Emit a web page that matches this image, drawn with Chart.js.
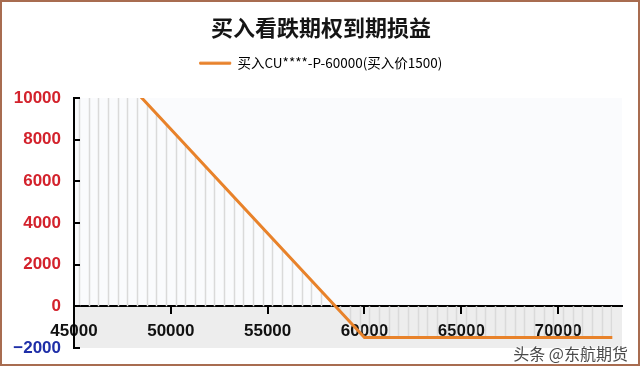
<html>
<head>
<script src="https://cdn.jsdelivr.net/npm/chart.js@4.4.0/dist/chart.umd.min.js"></script>
<style>
  body { margin: 0; background: #fff; }
  #wrap { position: relative; width: 640px; height: 369px; }
  #frame { position: absolute; left: 0; top: 0; width: 640px; height: 366px; box-sizing: border-box;
           border: 2px solid #a86c50; pointer-events: none; }
  #mark { position: absolute; right: 12px; top: 341px; font: 16px "Noto Sans CJK SC", sans-serif;
          color: #4a4a4a; text-shadow: 0 0 2px #fff, 0 0 2px #fff; }
</style>
</head>
<body>
<div id="wrap">
  <canvas id="myChart" width="640" height="369"></canvas>
  <div id="frame"></div>
  <div id="mark">头条 @东航期货</div>
</div>

<script>
// underlying price at expiry vs profit/loss
const prices = [45000, 60000, 72800];
const payoff = [13500, -1500, -1500];
const seriesName = '买入CU****-P-60000(买入价1500)';
const chartTitle = '买入看跌期权到期损益';
const yTicks = [-2000, 0, 2000, 4000, 6000, 8000, 10000];
const xTicks = [45000, 50000, 55000, 60000, 65000, 70000];

const orange = '#e8822a';

// vertical stripes every 500, offset by 250
function stripes(ctx) {
    const chart = ctx.chart;
    const x = chart.scales.x;
    if (!chart.chartArea || !x) return 'rgba(0,0,0,0)';
    const c = document.createElement('canvas');
    c.width = chart.width;
    c.height = 4;
    const g = c.getContext('2d');
    g.strokeStyle = '#dadada';
    g.lineWidth = 1.5;
    for (let v = x.min + 250; v < x.max; v += 500) {
        const px = Math.round(x.getPixelForValue(v)) + 0.5;
        g.beginPath();
        g.moveTo(px, 0);
        g.lineTo(px, 4);
        g.stroke();
    }
    return chart.ctx.createPattern(c, 'repeat');
}

const plotBg = {
    id: 'plotBg',
    beforeDraw(chart) {
        const { ctx, chartArea: a, scales } = chart;
        const y0 = scales.y.getPixelForValue(0);
        ctx.save();
        ctx.fillStyle = '#fafbfd';
        ctx.fillRect(a.left, a.top, a.right - a.left, y0 - a.top);
        ctx.fillStyle = '#ededed';
        ctx.fillRect(a.left, y0, a.right - a.left, a.bottom - y0);
        ctx.restore();
    },
    afterDraw(chart) {
        // y axis tick marks point inwards
        const { ctx, chartArea: a, scales } = chart;
        ctx.save();
        ctx.strokeStyle = '#000';
        ctx.lineWidth = 2;
        yTicks.forEach(v => {
            const py = Math.round(scales.y.getPixelForValue(v));
            ctx.beginPath();
            ctx.moveTo(a.left, py);
            ctx.lineTo(a.left + 6, py);
            ctx.stroke();
        });
        ctx.restore();
    }
};

const ctx = document.getElementById('myChart').getContext('2d');
const myChart = new Chart(ctx, {
    type: 'line',
    data: {
        datasets: [{
            label: seriesName,
            data: prices.map((p, i) => ({ x: p, y: payoff[i] })),
            borderColor: orange,
            borderWidth: 3,
            pointRadius: 0,
            tension: 0,
            fill: 'origin',
            backgroundColor: stripes
        }]
    },
    options: {
        responsive: false,
        animation: false,
        layout: { padding: { left: 20, right: 18, top: 0, bottom: 21 } },
        plugins: {
            title: {
                display: true,
                text: chartTitle,
                color: '#151515',
                font: { family: '"Noto Sans CJK SC", sans-serif', size: 22, weight: 'bold' },
                padding: { top: 14, bottom: -1 }
            },
            // empty spacer between legend and plot
            subtitle: {
                display: true,
                text: ' ',
                weight: 500,
                font: { size: 10, lineHeight: 1 },
                padding: { top: 0, bottom: 8 }
            },
            legend: {
                labels: {
                    color: '#333',
                    font: { family: '"Noto Sans CJK SC", sans-serif', size: 13.5 },
                    boxWidth: 31,
                    boxHeight: 2,
                    padding: 17,
                    generateLabels: () => [{
                        text: seriesName, fillStyle: orange, strokeStyle: orange,
                        lineWidth: 1, hidden: false, datasetIndex: 0
                    }]
                }
            },
            tooltip: { enabled: false }
        },
        scales: {
            x: {
                type: 'linear',
                position: { y: 0 },
                z: 1,
                min: 45000,
                max: 73300,
                afterFit: s => { s.height = 0; },
                afterBuildTicks: s => { s.ticks = xTicks.map(v => ({ value: v })); },
                border: { color: '#000', width: 2 },
                grid: { drawOnChartArea: false, drawTicks: true, tickLength: 7, color: '#000', lineWidth: 2 },
                ticks: {
                    color: '#111',
                    padding: 8,
                    maxRotation: 0,
                    autoSkip: false,
                    font: { family: '"Liberation Sans", Arial, sans-serif', size: 17, weight: 'bold' },
                    callback: v => String(v)
                }
            },
            y: {
                min: -2000,
                max: 10000,
                afterFit: s => {
                    s.width = 54;
                    s.paddingTop = 0;
                    s.paddingBottom = 0;
                    s._computeLabelArea = () => null; // let labels run past the box
                },
                afterBuildTicks: s => { s.ticks = yTicks.map(v => ({ value: v })); },
                border: { color: '#000', width: 2 },
                grid: { display: true, drawOnChartArea: false, drawTicks: false },
                ticks: {
                    padding: 13,
                    color: c => c.tick.value < 0 ? '#1f2fa8' : '#d3222c',
                    font: { family: '"Liberation Sans", Arial, sans-serif', size: 17, weight: 'bold' },
                    callback: v => v < 0 ? '\u2212' + Math.abs(v) : String(v)
                }
            }
        }
    },
    plugins: [plotBg]
});
</script>
</body>
</html>
